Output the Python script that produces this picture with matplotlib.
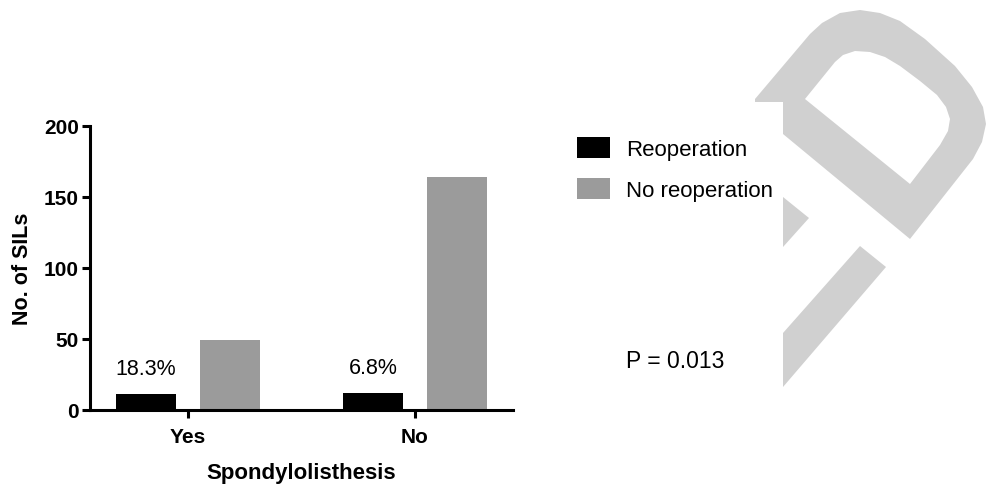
import matplotlib
matplotlib.use('Agg')
import matplotlib.pyplot as plt
import numpy as np
from matplotlib.patches import Polygon, PathPatch
from matplotlib.path import Path

categories = ['Yes', 'No']
reoperation = [11, 12]
no_reoperation = [49, 164]
pct_labels = ['18.3%', '6.8%']
p_text = 'P = 0.013'

plt.rcParams['font.family'] = ['Liberation Sans', 'DejaVu Sans']

W, H = 989, 485
fig = plt.figure(figsize=(W / 100, H / 100), dpi=100)


def px(pts):
    # pixel coords (from top-left) -> figure fraction
    return [(x / W, 1 - y / H) for x, y in pts]


# watermark logo in the background
wm = '#d0d0d0'
outer = [(755, 103), (783, 103), (783, 135), (910, 240), (973, 160), (982, 143),
         (986, 125), (983, 108), (972, 88), (955, 67), (925, 40), (900, 22),
         (880, 14), (860, 11), (840, 14), (822, 24), (810, 35), (755, 100)]
inner = [(805, 100), (910, 185), (940, 146), (948, 132), (950, 120), (946, 108),
         (937, 96), (920, 82), (900, 67), (885, 58), (870, 53), (855, 52),
         (843, 56), (835, 63)][::-1]
verts = px(outer) + [px(outer)[0]] + px(inner) + [px(inner)[0]]
codes = ([Path.MOVETO] + [Path.LINETO] * (len(outer) - 1) + [Path.CLOSEPOLY]
         + [Path.MOVETO] + [Path.LINETO] * (len(inner) - 1) + [Path.CLOSEPOLY])
fig.add_artist(PathPatch(Path(verts, codes), facecolor=wm, edgecolor='none',
                         transform=fig.transFigure, zorder=0))
fig.add_artist(Polygon(px([(783, 198), (809, 219), (783, 248)]), closed=True,
                       facecolor=wm, edgecolor='none', transform=fig.transFigure, zorder=0))
fig.add_artist(Polygon(px([(860, 247), (886, 268), (783, 388), (783, 334)]), closed=True,
                       facecolor=wm, edgecolor='none', transform=fig.transFigure, zorder=0))

ax = fig.add_axes([90 / W, 1 - 411 / H, 423 / W, 284 / H])
ax.patch.set_alpha(0)

x = np.arange(len(categories))
width = 0.265
off = 0.185
b1 = ax.bar(x - off, reoperation, width, color='black', label='Reoperation')
b2 = ax.bar(x + off, no_reoperation, width, color='#9b9b9b', label='No reoperation')

for i, lab in enumerate(pct_labels):
    ax.annotate(lab, xy=(x[i] - off, reoperation[i]), xytext=(0, 11),
                textcoords='offset points', ha='center', va='bottom', fontsize=15.5)

ax.set_xlim(-0.432, 1.432)
ax.set_ylim(0, 200)
ax.set_yticks([0, 50, 100, 150, 200])
ax.set_xticks(x)
ax.set_xticklabels(categories)
for s in ['top', 'right']:
    ax.spines[s].set_visible(False)
for s in ['left', 'bottom']:
    ax.spines[s].set_linewidth(2.2)
ax.tick_params(width=2.2, length=6, labelsize=15, pad=2)
ax.tick_params(axis='x', pad=6)
for t in ax.get_xticklabels() + ax.get_yticklabels():
    t.set_fontweight('bold')
ax.set_ylabel('No. of SILs', fontsize=15.5, fontweight='bold', labelpad=8)
ax.set_xlabel('Spondylolisthesis', fontsize=16, fontweight='bold', labelpad=12)

ax.legend(handles=[b1, b2], loc='upper left', bbox_to_anchor=(557 / W, 1 - 118 / H),
          bbox_transform=fig.transFigure, frameon=False, fontsize=16,
          handlelength=1.5, handleheight=1.1, labelspacing=0.8, handletextpad=0.7)

fig.text(626 / W, 1 - 362 / H, p_text, fontsize=16.5, va='center', ha='left')

plt.savefig('out.png', dpi=100)
